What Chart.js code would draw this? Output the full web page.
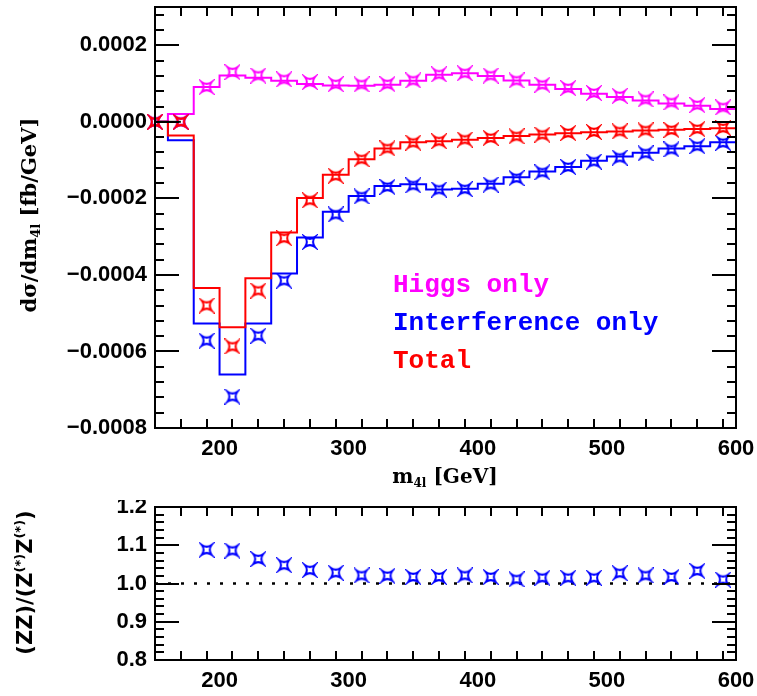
<!DOCTYPE html>
<html>
<head>
<meta charset="utf-8">
<script src="https://cdn.jsdelivr.net/npm/chart.js@4.4.0/dist/chart.umd.min.js"></script>
<style>
body { margin: 0; background: #fff; }
#wrap { position: relative; width: 757px; height: 696px; }
canvas { position: absolute; left: 0; }
</style>
</head>
<body>
<div id="wrap">
  <canvas id="topChart" width="757" height="500" style="top:0px"></canvas>
  <canvas id="ratioChart" width="757" height="196" style="top:500px"></canvas>
</div>
<script>
// histogram bin edges (GeV); one value per bin, last edge closes the last bin
const binEdges = [150, 160, 180, 200, 220, 240, 260, 280, 300, 320, 340, 360, 380, 400, 420, 440, 460, 480, 500, 520, 540, 560, 580, 600];
const higgsHist = [0, 0.0000206, 0.0000909, 0.000121, 0.000115, 0.000107, 0.0000986, 0.0000952, 0.0000944, 0.000097, 0.000107, 0.000123, 0.000127, 0.00012, 0.000108, 0.000097, 0.0000858, 0.0000733, 0.000065, 0.000056, 0.000048, 0.0000421, 0.0000335];
const interfHist = [0, -0.000048, -0.000527, -0.00066, -0.000527, -0.000396, -0.000302, -0.000235, -0.000194, -0.000168, -0.000163, -0.000177, -0.000175, -0.000162, -0.000145, -0.00013, -0.000118, -0.000102, -0.0000909, -0.0000806, -0.0000695, -0.0000636, -0.0000533];
const totalHist = [0, -0.000036, -0.000434, -0.000537, -0.000409, -0.000289, -0.000199, -0.000138, -0.0000978, -0.0000695, -0.0000533, -0.0000507, -0.000047, -0.000042, -0.000037, -0.000033, -0.00003, -0.000027, -0.000025, -0.000023, -0.000021, -0.000019, -0.000017];

// markers at bin centres
const binCentres = [150, 170, 190, 210, 230, 250, 270, 290, 310, 330, 350, 370, 390, 410, 430, 450, 470, 490, 510, 530, 550, 570, 590];
const higgsPts = [0, 0, 0.0000909, 0.00013, 0.000121, 0.000111, 0.000104, 0.0000986, 0.0000978, 0.0000986, 0.000108, 0.000124, 0.000127, 0.000121, 0.000108, 0.000097, 0.0000883, 0.0000754, 0.0000677, 0.0000584, 0.0000507, 0.0000438, 0.0000378];
const interfPts = [0, 0, -0.000572, -0.000718, -0.000559, -0.000415, -0.000314, -0.000242, -0.000195, -0.00017, -0.000166, -0.000177, -0.000176, -0.000164, -0.000147, -0.000132, -0.000118, -0.000104, -0.0000935, -0.0000824, -0.0000721, -0.0000636, -0.0000549];
const totalPts = [0, 0, -0.00048, -0.000587, -0.000441, -0.000304, -0.000205, -0.000141, -0.0000978, -0.0000695, -0.0000545, -0.0000507, -0.0000463, -0.000042, -0.0000378, -0.0000335, -0.0000291, -0.0000265, -0.000025, -0.0000224, -0.0000215, -0.0000188, -0.0000162];

// short black segment at zero
const zeroSegX = [150, 170];
const zeroSegY = [0, 0];

// ratio panel
const ratioCentres = [190, 210, 230, 250, 270, 290, 310, 330, 350, 370, 390, 410, 430, 450, 470, 490, 510, 530, 550, 570, 590];
const ratioPts = [1.088, 1.086, 1.064, 1.048, 1.035, 1.028, 1.021, 1.020, 1.017, 1.017, 1.021, 1.017, 1.011, 1.015, 1.015, 1.015, 1.027, 1.021, 1.017, 1.033, 1.010];
const refLineX = [150, 600];
const refLineY = [1, 1];

const seriesNames = ['Higgs only', 'Interference only', 'Total'];
const seriesColors = ['#ff00ff', '#0000ff', '#ff0000'];

// four-point star marker with a small hollow centre
function starMarker(color) {
    const c = document.createElement('canvas');
    c.width = 16; c.height = 16;
    const g = c.getContext('2d');
    const m = 8, s = 5, k = 0.25 * s;
    g.strokeStyle = color;
    g.lineWidth = 2;
    g.beginPath();
    g.moveTo(m - s, m - s);
    g.quadraticCurveTo(m, m - k, m + s, m - s);
    g.quadraticCurveTo(m + k, m, m + s, m + s);
    g.quadraticCurveTo(m, m + k, m - s, m + s);
    g.quadraticCurveTo(m - k, m, m - s, m - s);
    g.closePath();
    g.stroke();
    return c;
}

function histPoints(vals) {
    return binEdges.map((x, i) => ({ x: x, y: vals[Math.min(i, vals.length - 1)] }));
}
function pairPoints(xs, ys) {
    return xs.map((x, i) => ({ x: x, y: ys[i] }));
}

function histSet(vals, color) {
    return { data: histPoints(vals), borderColor: color, borderWidth: 2, stepped: 'before', pointRadius: 0, fill: false };
}
function markerSet(xs, ys, color) {
    return { data: pairPoints(xs, ys), showLine: false, pointStyle: starMarker(color), pointRadius: 6, clip: false };
}

// box + inward ticks on all four sides
function framePlugin(xStep, xMajor, yStep, yMajor) {
    return {
        id: 'frame',
        afterDatasetsDraw(chart) {
            const { ctx, chartArea: a, scales } = chart;
            const xs = scales.x, ys = scales.y;
            ctx.save();
            ctx.strokeStyle = '#000';
            ctx.lineWidth = 2;
            ctx.beginPath();
            for (let k = 1; ; k++) {
                const v = Math.round((xs.min + k * xStep) * 1e6) / 1e6;
                if (v >= xs.max) break;
                const px = Math.round(xs.getPixelForValue(v));
                const isMaj = Math.abs(v / xMajor - Math.round(v / xMajor)) < 1e-6;
                const len = isMaj ? 24 : 9;
                ctx.moveTo(px, a.bottom); ctx.lineTo(px, a.bottom - len);
                ctx.moveTo(px, a.top); ctx.lineTo(px, a.top + len);
            }
            for (let k = 1; ; k++) {
                const v = ys.min + k * yStep;
                if (v >= ys.max - yStep * 1e-3) break;
                const py = Math.round(ys.getPixelForValue(v));
                const isMaj = Math.abs(v / yMajor - Math.round(v / yMajor)) < 1e-4;
                const len = isMaj ? 24 : 9;
                ctx.moveTo(a.left, py); ctx.lineTo(a.left + len, py);
                ctx.moveTo(a.right, py); ctx.lineTo(a.right - len, py);
            }
            ctx.stroke();
            ctx.strokeRect(a.left, a.top, a.right - a.left, a.bottom - a.top);
            ctx.restore();
        }
    };
}

// text pieces: [text, font, dy]
function drawPieces(ctx, pieces, cx, baseY) {
    let w = 0;
    pieces.forEach(p => { ctx.font = p[1]; w += ctx.measureText(p[0]).width; });
    let x = cx - w / 2;
    pieces.forEach(p => {
        ctx.font = p[1];
        ctx.fillText(p[0], x, baseY + p[2]);
        x += ctx.measureText(p[0]).width;
    });
}

const topText = {
    id: 'topText',
    afterDraw(chart) {
        const ctx = chart.ctx;
        ctx.save();
        ctx.fillStyle = '#000';
        ctx.textBaseline = 'alphabetic';
        drawPieces(ctx, [['m', 'bold 20px "DejaVu Serif"', 0], ['4l', 'bold 12px "DejaVu Serif"', 4], [' [GeV]', 'bold 20px "DejaVu Serif"', 0]], 445, 483);
        ctx.translate(36, 215);
        ctx.rotate(-Math.PI / 2);
        drawPieces(ctx, [['d\u03c3/dm', 'bold 21px "DejaVu Serif"', 0], ['4l', 'bold 13px "DejaVu Serif"', 4], [' [fb/GeV]', 'bold 21px "DejaVu Serif"', 0]], 0, 0);
        ctx.restore();

        ctx.save();
        ctx.font = 'bold 26px "Liberation Mono"';
        ctx.textBaseline = 'alphabetic';
        seriesNames.forEach((name, i) => {
            ctx.fillStyle = seriesColors[i];
            ctx.fillText(name, 393, 292 + i * 38);
        });
        ctx.restore();
    }
};

const ratioText = {
    id: 'ratioText',
    afterDraw(chart) {
        const ctx = chart.ctx;
        const f = 'bold 21px "DejaVu Sans"', s = 'bold 13px "DejaVu Sans"';
        ctx.save();
        ctx.fillStyle = '#000';
        ctx.translate(32, 82.5);
        ctx.rotate(-Math.PI / 2);
        drawPieces(ctx, [['(ZZ)/(Z', f, 0], ['(*)', s, -8], ['Z', f, 0], ['(*)', s, -8], [')', f, 0]], 0, 0);
        ctx.restore();
    }
};

const tickFont = { family: 'Liberation Sans', weight: 'bold', size: 22 };

function xAxis(h) {
    return {
        type: 'linear', min: 150, max: 600,
        grid: { display: false, drawTicks: false },
        border: { display: false },
        ticks: {
            stepSize: 100, includeBounds: false, autoSkip: false, maxRotation: 0,
            padding: 8, color: '#000', font: tickFont,
            callback: v => (v % 100 === 0 ? String(v) : '')
        },
        afterFit(scale) {
            scale.height = h;
            scale.paddingLeft = 0; scale.paddingRight = 0;
        }
    };
}
function yAxisFit(scale) {
    scale.width = 155;
    scale.paddingTop = 0; scale.paddingBottom = 0;
}

// top panel (first dataset is drawn on top)
new Chart(document.getElementById('topChart'), {
    type: 'line',
    data: {
        datasets: [
            markerSet(binCentres, totalPts, seriesColors[2]),
            markerSet(binCentres, higgsPts, seriesColors[0]),
            markerSet(binCentres, interfPts, seriesColors[1]),
            { data: pairPoints(zeroSegX, zeroSegY), borderColor: '#000', borderWidth: 2, pointRadius: 0 },
            histSet(totalHist, seriesColors[2]),
            histSet(higgsHist, seriesColors[0]),
            histSet(interfHist, seriesColors[1])
        ]
    },
    options: {
        responsive: false,
        animation: false,
        events: [],
        layout: { padding: { top: 2, right: 21, left: 0, bottom: 0 } },
        elements: { line: { tension: 0 } },
        plugins: { legend: { display: false }, tooltip: { enabled: false } },
        scales: {
            x: xAxis(72),
            y: {
                type: 'linear', min: -0.0008, max: 0.0003,
                grid: { display: false, drawTicks: false },
                border: { display: false },
                ticks: {
                    stepSize: 0.0002, includeBounds: false, padding: 8, color: '#000', font: tickFont,
                    callback: v => {
                        const r = v / 0.0002;
                        if (Math.abs(r - Math.round(r)) > 1e-6) return '';
                        const t = Math.abs(v).toFixed(4);
                        return v < -1e-9 ? '\u2212' + t : t;
                    }
                },
                afterFit: yAxisFit
            }
        }
    },
    plugins: [framePlugin(20, 100, 0.00004, 0.0002), topText]
});

// ratio panel
new Chart(document.getElementById('ratioChart'), {
    type: 'line',
    data: {
        datasets: [
            markerSet(ratioCentres, ratioPts, seriesColors[1]),
            { data: pairPoints(refLineX, refLineY), borderColor: '#000', borderWidth: 2.5, borderDash: [3, 10], pointRadius: 0 }
        ]
    },
    options: {
        responsive: false,
        animation: false,
        events: [],
        layout: { padding: { top: 4, right: 21, left: 0, bottom: 0 } },
        plugins: { legend: { display: false }, tooltip: { enabled: false } },
        scales: {
            x: xAxis(36),
            y: {
                type: 'linear', min: 0.8, max: 1.2,
                grid: { display: false, drawTicks: false },
                border: { display: false },
                ticks: {
                    stepSize: 0.1, padding: 8, color: '#000', font: tickFont,
                    callback: v => v.toFixed(1)
                },
                afterFit: yAxisFit
            }
        }
    },
    plugins: [framePlugin(20, 100, 0.02, 0.1), ratioText]
});
</script>
</body>
</html>
